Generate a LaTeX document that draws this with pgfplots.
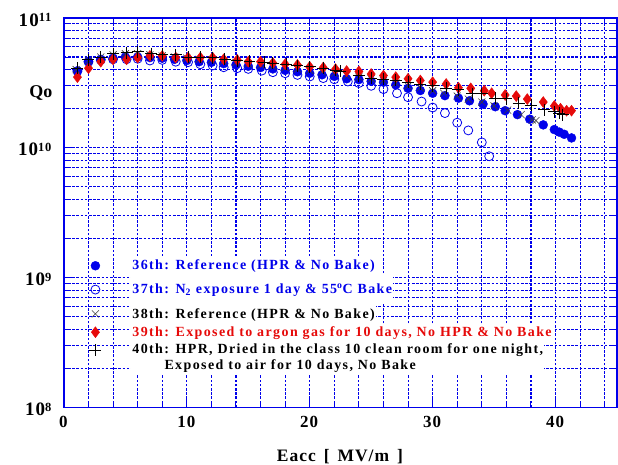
\documentclass[border=0pt]{standalone}
\usepackage{pgfplots}
\pgfplotsset{compat=1.18}
\usepackage{fontspec}
\setmainfont{Liberation Serif}
\newfontfamily\legfont[LetterSpace=10]{Liberation Serif}
\newfontfamily\tickfont[LetterSpace=6]{Liberation Serif}
\usetikzlibrary{calc}
\definecolor{myblue}{RGB}{0,0,235}
\definecolor{myred}{RGB}{230,10,10}
\definecolor{mygray}{RGB}{60,60,60}
\newcommand{\yl}[1]{\textbf{\tickfont\fontsize{19}{21}\selectfont 10\raisebox{0.5ex}{\fontsize{12.5}{14}\selectfont #1}}}
\newcommand{\xl}[1]{\textbf{\tickfont\fontsize{17}{19}\selectfont #1}}
\pgfplotsset{
  myleg/.style={legend image code/.code={\draw[##1] plot coordinates {(0.3cm,0cm)}; \path (0cm,0cm) (1.55cm,0cm);}},
  mylegup/.style={legend image code/.code={\draw[##1] plot coordinates {(0.3cm,7.5pt)}; \path (0cm,0cm) (1.55cm,0cm);}},
}
\begin{document}
\begin{tikzpicture}
\begin{axis}[
  width=554pt, height=390pt, scale only axis,
  ymode=log, log basis y=10,
  xmin=0, xmax=45, ymin=1e8, ymax=1e11,
  xtick={0,10,20,30,40}, minor xtick={2,4,6,8,12,14,16,18,22,24,26,28,32,34,36,38,42,44},
  ytick={1e8,1e9,1e10,1e11},
  minor ytick={2e8,3e8,4e8,5e8,6e8,7e8,8e8,9e8,2e9,3e9,4e9,5e9,6e9,7e9,8e9,9e9,2e10,3e10,4e10,5e10,6e10,7e10,8e10,9e10},
  yticklabels={{\yl{8}},{\yl{9}},{\yl{10}},{\yl{11}}},
  xticklabels={{\xl{0}},{\xl{10}},{\xl{20}},{\xl{30}},{\xl{40}}},
  yticklabel style={xshift=-9pt, yshift=-2pt},
  xticklabel style={yshift=-5pt},
  grid=both,
  every axis grid/.style={draw=myblue, color=myblue, dash pattern=on 2.6pt off 1.6pt, line width=1.1pt},
  every major grid/.style={draw=myblue, color=myblue, dash pattern=on 2.6pt off 1.6pt, line width=1.1pt},
  every minor grid/.style={draw=myblue, color=myblue, dash pattern=on 2.6pt off 1.6pt, line width=1.1pt},
  axis line style={myblue, line width=1.6pt},
  every major tick/.append style={myblue, line width=1pt},
  every minor tick/.append style={myblue, line width=1pt},
  major tick length=8pt, minor tick length=5pt,
  xlabel={\textbf{\tickfont\fontsize{17.5}{19}\selectfont Eacc\hspace{0.45em}[\hspace{0.45em}MV/m\hspace{0.45em}]}},
  xlabel style={yshift=-15pt},
  legend style={at={(rel axis cs:0.035,0.394)}, anchor=north west, draw=none, fill=none,
    font=\legfont\fontsize{14}{16}\selectfont\bfseries, row sep=0pt,
    nodes={fill=white, inner xsep=1pt, inner ysep=3pt, align=left}},
  legend cell align=left,
]
\addplot[only marks, mark=*, mark size=4.5pt, myblue, mark options={fill=myblue}, myleg] coordinates {
(1.1,3.9e10)(2,4.6e10)(3,4.8e10)(4,4.9e10)(5,5.0e10)(6,5.0e10)(7,4.95e10)(8,4.9e10)(9,4.8e10)(10,4.7e10)(11,4.6e10)(12,4.55e10)(13,4.45e10)(14,4.35e10)(15,4.25e10)(16,4.15e10)(17,4.05e10)(18,3.95e10)(19,3.85e10)(20,3.75e10)(21,3.65e10)(22,3.55e10)(23,3.4e10)(24,3.35e10)(25,3.25e10)(26,3.2e10)(27,3.05e10)(28,2.87e10)(29,2.76e10)(30,2.63e10)(31,2.52e10)(32.1,2.41e10)(33,2.3e10)(34.1,2.17e10)(35.1,2.07e10)(35.9,1.93e10)(36.9,1.8e10)(37.9,1.66e10)(39,1.5e10)(39.9,1.38e10)(40.3,1.32e10)(40.7,1.27e10)(41.3,1.19e10)};
\addlegendentry[text=myblue, inner ysep=4pt]{36th: Reference (HPR \& No Bake)}
\addplot[only marks, mark=o, mark size=4.5pt, myblue, line width=0.8pt, myleg] coordinates {
(1.1,3.9e10)(2,4.6e10)(3,4.75e10)(4,4.8e10)(5.1,4.8e10)(6,4.85e10)(7,4.7e10)(8,4.75e10)(9.1,4.6e10)(10.1,4.56e10)(11.1,4.4e10)(12.1,4.3e10)(13,4.17e10)(14.1,4.1e10)(15,4.05e10)(16.1,3.93e10)(17,3.82e10)(18,3.75e10)(19,3.64e10)(20,3.54e10)(21.1,3.44e10)(22,3.37e10)(23.1,3.24e10)(24,3.15e10)(25,3.0e10)(26,2.83e10)(27.1,2.63e10)(28,2.45e10)(29.1,2.27e10)(30,2.04e10)(31,1.85e10)(32,1.56e10)(32.9,1.36e10)(34,1.1e10)(34.6,8.6e9)};
\addlegendentry[text=myblue, inner ysep=8.5pt]{37th: N\textsubscript{2} exposure 1 day \& 55\textsuperscript{o}C Bake}
\addplot[only marks, mark=x, mark size=5pt, mygray, line width=0.6pt, myleg] coordinates {
(1,4.0e10)(2,4.7e10)(3,5.0e10)(4,5.2e10)(5,5.3e10)(6,5.3e10)(7,5.2e10)(8,5.1e10)(9,5.0e10)(10,4.9e10)(11,4.8e10)(12,4.75e10)(13,4.65e10)(14,4.55e10)(15,4.45e10)(16,4.35e10)(17,4.25e10)(18,4.15e10)(19,4.05e10)(20,3.95e10)(21,3.85e10)(22,3.75e10)(23,3.6e10)(24,3.5e10)(25,3.4e10)(26,3.3e10)(27,3.15e10)(28,3.0e10)(29,2.9e10)(30,2.75e10)(30.9,2.63e10)(32,2.5e10)(32.9,2.37e10)(34,2.25e10)(35,2.1e10)(36.1,1.95e10)(37.2,1.8e10)(38.1,1.64e10)(38.4,1.62e10)};
\addlegendentry[text=black, inner ysep=4.5pt]{38th: Reference (HPR \& No Bake)}
\addplot[only marks, mark=diamond*, mark size=5.5pt, myred, mark options={fill=myred}, myleg] coordinates {
(1.1,3.5e10)(2,4.1e10)(3,4.6e10)(4,4.8e10)(5.1,4.8e10)(6,4.95e10)(7,5.1e10)(8,5.1e10)(9.1,4.95e10)(10.1,4.95e10)(11.1,4.95e10)(12.1,4.95e10)(13,4.8e10)(14.1,4.75e10)(15,4.6e10)(16,4.6e10)(17,4.5e10)(18,4.4e10)(19,4.35e10)(20,4.2e10)(21.1,4.15e10)(22.1,4.03e10)(23,3.9e10)(24,3.87e10)(25,3.7e10)(26,3.6e10)(27,3.5e10)(28,3.4e10)(29,3.3e10)(30,3.2e10)(31.1,3.1e10)(32.1,2.9e10)(33.1,2.87e10)(34.2,2.75e10)(34.8,2.63e10)(35.9,2.55e10)(36.8,2.5e10)(37.7,2.37e10)(39,2.25e10)(39.9,2.1e10)(40.4,2.0e10)(40.9,1.93e10)(41.3,1.93e10)};
\addlegendentry[text=myred, inner ysep=2.5pt]{39th: Exposed to argon gas for 10 days, No HPR \& No Bake}
\addplot[only marks, mark=+, mark size=6pt, black, line width=0.9pt, mylegup] coordinates {
(1.1,4.1e10)(2,4.75e10)(3,5.0e10)(4,5.3e10)(5.1,5.4e10)(6,5.5e10)(7.1,5.3e10)(8,5.25e10)(9.1,5.2e10)(10.1,5.0e10)(11.1,5.0e10)(12.1,4.95e10)(13.1,4.8e10)(14.1,4.7e10)(15.1,4.65e10)(16.3,4.55e10)(17,4.5e10)(18.1,4.4e10)(19,4.3e10)(20,4.2e10)(21.1,4.1e10)(22.1,3.95e10)(22.5,3.9e10)(24,3.6e10)(25,3.44e10)(26,3.37e10)(27,3.3e10)(28,3.2e10)(29,3.1e10)(30,3.0e10)(31.1,2.87e10)(32.1,2.8e10)(33.2,2.6e10)(34,2.6e10)(35.1,2.41e10)(36,2.38e10)(37,2.2e10)(38,2.12e10)(39.1,1.96e10)(39.9,1.9e10)(40.3,1.85e10)(40.6,1.8e10)};
\addlegendentry[text=black, inner ysep=3.5pt]{40th: HPR, Dried in the class 10 clean room for one night,\\\hspace{2.3em}Exposed to air for 10 days, No Bake}
\end{axis}
\node[font=\fontsize{18}{20}\selectfont\bfseries] at ($(current axis.north west)+(-23pt,-75pt)$) {Qo};
\pgfresetboundingbox
\useasboundingbox ($(current axis.south west)+(-64pt,-57pt)$) rectangle ($(current axis.north east)+(1pt,18pt)$);
\end{tikzpicture}
\end{document}
